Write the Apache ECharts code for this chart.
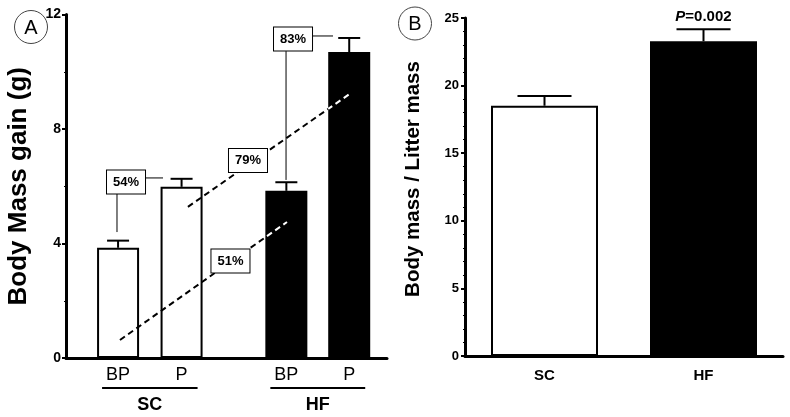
<!DOCTYPE html>
<html>
<head>
<meta charset="utf-8">
<script src="https://cdn.jsdelivr.net/npm/echarts@6/dist/echarts.min.js"></script>
<style>html,body{margin:0;padding:0;background:#fff}#c{width:790px;height:417px}</style>
</head>
<body>
<div id="c"></div>
<script>
// ---------- Panel A data ----------
const groupsA = ['SC', 'SC', 'HF', 'HF'];
const periodsA = ['BP', 'P', 'BP', 'P'];
const xPosA = [0.82, 1.82, 3.47, 4.46];
const gainMean = [3.85, 5.98, 5.84, 10.69];
const gainErr = [0.25, 0.28, 0.30, 0.49];
const fillA = ['#ffffff', '#ffffff', '#000000', '#000000'];
const yTicksA = [0, 4, 8, 12];
const pctLabels = ['54%', '79%', '51%', '83%'];
const pctPos = [[0.945, 6.15], [2.866, 6.90], [2.59, 3.39], [3.575, 11.14]];
const trendLow = [0.85, 0.63, 3.48, 4.75];
const trendHigh = [1.92, 5.28, 4.47, 9.23];
const connectors = [
  [0.803, 5.73, 0.803, 4.40],
  [1.244, 6.29, 1.528, 6.29],
  [3.874, 11.25, 4.205, 11.25],
  [3.465, 10.72, 3.465, 6.22]
];
const groupNames = ['SC', 'HF'];

// ---------- Panel B data ----------
const categoriesB = ['SC', 'HF'];
const ratioMean = [18.51, 23.28];
const ratioErr = [0.72, 0.88];
const fillB = ['#ffffff', '#000000'];
const pLabels = ['', '{i|P}=0.002'];
const yTicksB = [0, 5, 10, 15, 20, 25];

const FONT = '"Liberation Sans", Arial, sans-serif';
const BAR_W_A = 42;
const DASH = [6, 4];
const chart = echarts.init(document.getElementById('c'), null, {renderer: 'canvas'});

function renderTrend(params, api) {
  const p0 = api.coord([api.value(0), api.value(1)]);
  const p1 = api.coord([api.value(2), api.value(3)]);
  const len = Math.hypot(p1[0] - p0[0], p1[1] - p0[1]);
  const children = [{type: 'line', shape: {x1: p0[0], y1: p0[1], x2: p1[0], y2: p1[1]},
    style: {stroke: '#000', lineWidth: 2, lineDash: DASH}}];
  // parts of the line lying over black bars are drawn white
  xPosA.forEach((x, i) => {
    if (fillA[i] !== '#000000') return;
    const c = api.coord([x, gainMean[i]]);
    const left = c[0] - BAR_W_A / 2, right = c[0] + BAR_W_A / 2;
    const xa = Math.max(left, Math.min(p0[0], p1[0]));
    const xb = Math.min(right, Math.max(p0[0], p1[0]));
    if (xb <= xa) return;
    const ta = (xa - p0[0]) / (p1[0] - p0[0]);
    const tb = (xb - p0[0]) / (p1[0] - p0[0]);
    const ya = p0[1] + ta * (p1[1] - p0[1]);
    const yb = p0[1] + tb * (p1[1] - p0[1]);
    if (Math.min(ya, yb) < c[1]) return;
    children.push({type: 'line', shape: {x1: xa, y1: ya, x2: xb, y2: yb},
      style: {stroke: '#fff', lineWidth: 2, lineDash: DASH, lineDashOffset: ta * len}});
  });
  return {type: 'group', children};
}

const option = {
  backgroundColor: '#fff',
  animation: false,
  grid: [
    {left: 66, top: 14.5, width: 321, height: 343.5},
    {left: 465, top: 18, width: 318, height: 338}
  ],
  xAxis: [
    {
      type: 'value', gridIndex: 0, min: 0, max: 5.055,
      splitLine: {show: false},
      axisLine: {show: true, lineStyle: {color: '#000', width: 3}},
      axisTick: {show: false},
      axisLabel: {
        show: true, customValues: xPosA, margin: 8,
        fontFamily: FONT, fontSize: 18, color: '#000',
        formatter: (v) => { const i = xPosA.indexOf(v); return i >= 0 ? periodsA[i] : ''; }
      }
    },
    {
      type: 'category', gridIndex: 1, data: categoriesB,
      axisLine: {show: true, lineStyle: {color: '#000', width: 3}},
      axisTick: {show: false},
      axisLabel: {fontFamily: FONT, fontSize: 15, fontWeight: 'bold', color: '#000', margin: 12}
    }
  ],
  yAxis: [
    {
      type: 'value', gridIndex: 0, min: yTicksA[0], max: yTicksA[yTicksA.length - 1], interval: 4,
      splitLine: {show: false},
      axisLine: {show: true, lineStyle: {color: '#000', width: 3}},
      axisTick: {show: true, length: 4, lineStyle: {color: '#000', width: 2}},
      minorTick: {show: true, splitNumber: 2, length: 2, lineStyle: {color: '#000', width: 1}},
      axisLabel: {fontFamily: FONT, fontSize: 14, fontWeight: 'bold', color: '#000', margin: 5},
      name: 'Body Mass gain (g)', nameLocation: 'middle', nameRotate: 90, nameGap: 34,
      nameTextStyle: {fontFamily: FONT, fontSize: 26, fontWeight: 'bold', color: '#000'}
    },
    {
      type: 'value', gridIndex: 1, min: yTicksB[0], max: yTicksB[yTicksB.length - 1], interval: 5,
      splitLine: {show: false},
      axisLine: {show: true, lineStyle: {color: '#000', width: 3}},
      axisTick: {show: true, length: 4, lineStyle: {color: '#000', width: 2}},
      minorTick: {show: true, splitNumber: 5, length: 2, lineStyle: {color: '#000', width: 1}},
      axisLabel: {fontFamily: FONT, fontSize: 13, fontWeight: 'bold', color: '#000', margin: 6},
      name: 'Body mass / Litter mass', nameLocation: 'middle', nameRotate: 90, nameGap: 41,
      nameTextStyle: {fontFamily: FONT, fontSize: 20.5, fontWeight: 'bold', color: '#000', padding: [0, 0, 0, 16]}
    }
  ],
  series: [
    // Panel A bars
    {
      type: 'bar', xAxisIndex: 0, yAxisIndex: 0, barWidth: BAR_W_A,
      data: xPosA.map((x, i) => ({value: [x, gainMean[i]], itemStyle: {color: fillA[i]}})),
      itemStyle: {borderColor: '#000', borderWidth: 2},
      z: 2
    },
    // Panel A error bars
    {
      type: 'custom', xAxisIndex: 0, yAxisIndex: 0,
      data: xPosA.map((x, i) => [x, gainMean[i], gainMean[i] + gainErr[i]]),
      renderItem: (params, api) => {
        const b = api.coord([api.value(0), api.value(1)]);
        const t = api.coord([api.value(0), api.value(2)]);
        const hw = 11;
        return {type: 'group', children: [
          {type: 'line', shape: {x1: b[0], y1: b[1], x2: t[0], y2: t[1]}, style: {stroke: '#000', lineWidth: 2}},
          {type: 'line', shape: {x1: t[0] - hw, y1: t[1], x2: t[0] + hw, y2: t[1]}, style: {stroke: '#000', lineWidth: 2}}
        ]};
      },
      z: 3
    },
    // dashed trend lines
    {
      type: 'custom', xAxisIndex: 0, yAxisIndex: 0, data: [trendLow, trendHigh],
      renderItem: renderTrend, z: 4
    },
    // connectors
    {
      type: 'custom', xAxisIndex: 0, yAxisIndex: 0, data: connectors,
      renderItem: (params, api) => {
        const a = api.coord([api.value(0), api.value(1)]);
        const b = api.coord([api.value(2), api.value(3)]);
        return {type: 'line', shape: {x1: a[0], y1: a[1], x2: b[0], y2: b[1]}, style: {stroke: '#000', lineWidth: 1}};
      },
      z: 4
    },
    // percent boxes
    {
      type: 'custom', xAxisIndex: 0, yAxisIndex: 0,
      data: pctPos.map((p) => [p[0], p[1]]),
      renderItem: (params, api) => {
        const c = api.coord([api.value(0), api.value(1)]);
        return {type: 'text', x: c[0], y: c[1], style: {
          text: pctLabels[params.dataIndex], align: 'center', verticalAlign: 'middle',
          fontFamily: FONT, fontSize: 13, fontWeight: 'bold', fill: '#000',
          backgroundColor: '#fff', borderColor: '#000', borderWidth: 1, padding: [5, 6, 5, 6]
        }};
      },
      z: 6
    },
    // Panel B bars
    {
      type: 'bar', xAxisIndex: 1, yAxisIndex: 1, barWidth: 107,
      data: ratioMean.map((v, i) => ({value: v, itemStyle: {color: fillB[i]}})),
      itemStyle: {borderColor: '#000', borderWidth: 2},
      z: 2
    },
    // Panel B error bars + P label
    {
      type: 'custom', xAxisIndex: 1, yAxisIndex: 1,
      data: ratioMean.map((v, i) => [i, v, v + ratioErr[i]]),
      renderItem: (params, api) => {
        const i = params.dataIndex;
        const b = api.coord([api.value(0), api.value(1)]);
        const t = api.coord([api.value(0), api.value(2)]);
        const hw = 27;
        const children = [
          {type: 'line', shape: {x1: b[0], y1: b[1], x2: t[0], y2: t[1]}, style: {stroke: '#000', lineWidth: 2}},
          {type: 'line', shape: {x1: t[0] - hw, y1: t[1], x2: t[0] + hw, y2: t[1]}, style: {stroke: '#000', lineWidth: 2}}
        ];
        if (pLabels[i]) {
          children.push({type: 'text', x: t[0], y: t[1] - 12, style: {
            text: pLabels[i], align: 'center', verticalAlign: 'middle',
            fontFamily: FONT, fontSize: 15, fontWeight: 'bold', fill: '#000',
            rich: {i: {fontStyle: 'italic', fontFamily: FONT, fontSize: 15, fontWeight: 'bold', fill: '#000'}}
          }});
        }
        return {type: 'group', children};
      },
      z: 3
    }
  ]
};

chart.setOption(option);

// group labels under panel A and panel letters
const graphics = [
  {type: 'circle', shape: {cx: 31, cy: 27, r: 16.5}, style: {fill: '#fff', stroke: '#444', lineWidth: 1}},
  {type: 'text', x: 31, y: 28, style: {text: 'A', align: 'center', verticalAlign: 'middle', fontFamily: FONT, fontSize: 20, fill: '#000'}},
  {type: 'circle', shape: {cx: 415, cy: 23.5, r: 16.5}, style: {fill: '#fff', stroke: '#444', lineWidth: 1}},
  {type: 'text', x: 415, y: 24.5, style: {text: 'B', align: 'center', verticalAlign: 'middle', fontFamily: FONT, fontSize: 20, fill: '#000'}}
];
groupNames.forEach((name) => {
  const xs = xPosA.filter((_, i) => groupsA[i] === name);
  const p0 = chart.convertToPixel({gridIndex: 0}, [Math.min(...xs), 0]);
  const p1 = chart.convertToPixel({gridIndex: 0}, [Math.max(...xs), 0]);
  graphics.push({type: 'line', shape: {x1: p0[0] - 16, y1: p0[1] + 30, x2: p1[0] + 16, y2: p1[1] + 30}, style: {stroke: '#000', lineWidth: 2}});
  graphics.push({type: 'text', x: (p0[0] + p1[0]) / 2, y: p0[1] + 47, style: {text: name, align: 'center', verticalAlign: 'middle', fontFamily: FONT, fontSize: 18, fontWeight: 'bold', fill: '#000'}});
});
chart.setOption({graphic: graphics});
</script>
</body>
</html>
